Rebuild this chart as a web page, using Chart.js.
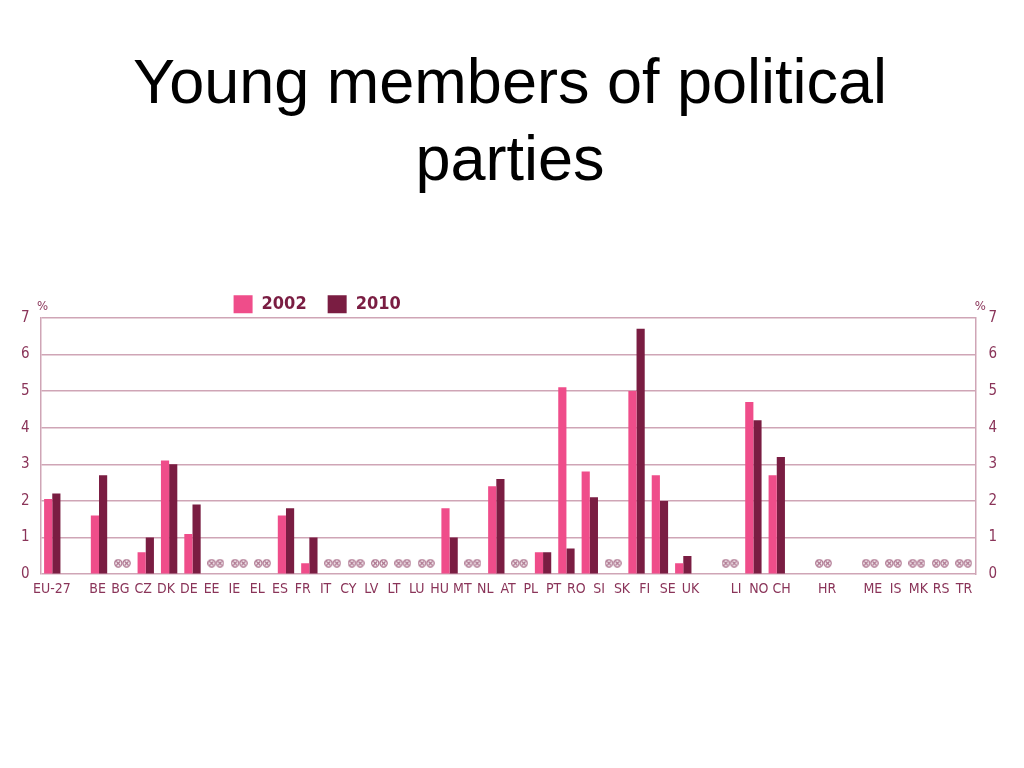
<!DOCTYPE html>
<html><head><meta charset="utf-8">
<script src="https://cdn.jsdelivr.net/npm/chart.js@4.4.1/dist/chart.umd.min.js"></script>
<style>html,body{margin:0;padding:0;background:#fff;}#wrap{width:1024px;height:768px;position:relative;}</style>
</head><body><div id="wrap"><canvas id="c" width="1024" height="768"></canvas></div>
<script>
// Categories as plotted (one slot per bar group / marker; '' = empty gap slot)
const categories = ['EU-27','','BE','BG','CZ','DK','DE','EE','IE','EL','ES','FR','IT','CY','LV','LT','LU',
  'HU','MT','NL','AT','PL','PT','SI','SK','FI','SE','UK','','LI','NO','CH','','HR','','ME','IS','MK','RS','TR'];
// Tick labels as printed under the axis in the reference (41 labels, spaced independently)
const tickLabels = ['EU-27','','BE','BG','CZ','DK','DE','EE','IE','EL','ES','FR','IT','CY','LV','LT','LU',
  'HU','MT','NL','AT','PL','PT','RO','SI','SK','FI','SE','UK','','LI','NO','CH','','HR','','ME','IS','MK','RS','TR'];
const values2002 = [2.05,null,1.6,null,0.6,3.1,1.1,null,null,null,1.6,0.3,null,null,null,null,null,
  1.8,null,2.4,null,0.6,5.1,2.8,null,5.0,2.7,0.3,null,null,4.7,2.7,null,null,null,null,null,null,null,null];
const values2010 = [2.2,null,2.7,null,1.0,3.0,1.9,null,null,null,1.8,1.0,null,null,null,null,null,
  1.0,null,2.6,null,0.6,0.7,2.1,null,6.7,2.0,0.5,null,null,4.2,3.2,null,null,null,null,null,null,null,null];
// Countries shown with the "no data" symbol
const noData = ['BG','EE','IE','EL','IT','CY','LV','LT','LU','MT','AT','SK','LI','HR','ME','IS','MK','RS','TR'];
const yTicks = [0,1,2,3,4,5,6,7];

const NARROW = "'DejaVu Sans Condensed','DejaVu Sans',sans-serif";
const PINK = '#ef4d8a', MAROON = '#7a1d42', GRID = '#cfa5b6', TXT = '#8a3459';
const MARK_Y = 0.3;
const LEG_PAD = 21;

function makeMark(){
  const c = document.createElement('canvas'); c.width = 17; c.height = 9;
  const g = c.getContext('2d'); g.strokeStyle = '#a86c88'; g.lineWidth = 1.2;
  [4.3, 12.6].forEach(cx => {
    g.beginPath(); g.arc(cx, 4.5, 3.6, 0, Math.PI*2); g.stroke();
    const d = 2.0; g.beginPath();
    g.moveTo(cx-d, 4.5-d); g.lineTo(cx+d, 4.5+d); g.moveTo(cx+d, 4.5-d); g.lineTo(cx-d, 4.5+d); g.stroke();
  });
  return c;
}
const markData = categories.map(c => noData.includes(c) ? MARK_Y : null);

const extras = {
  id: 'extras',
  afterLayout(chart){
    const lg = chart.legend, ca = chart.chartArea;
    const h = lg.bottom - lg.top;
    lg.left = ca.left + 193 - LEG_PAD;
    lg.top = ca.top - 13 - 9.5 - LEG_PAD;
    lg.bottom = lg.top + h;
  },
  afterDraw(chart){
    const ctx = chart.ctx, ca = chart.chartArea;
    ctx.save();
    ctx.fillStyle = TXT; ctx.font = 'condensed 13px ' + NARROW; ctx.textAlign = 'center'; ctx.textBaseline = 'middle';
    ctx.fillText('%', ca.left + 2, ca.top - 11);
    ctx.fillText('%', ca.right + 5, ca.top - 11);
    ctx.restore();
  }
};

new Chart(document.getElementById('c'), {
  data: {
    labels: categories,
    datasets: [
      {type:'bar', label:'2002', data: values2002, backgroundColor: PINK, borderWidth: 0, xAxisID:'x', yAxisID:'y',
        categoryPercentage: 0.7, barPercentage: 1.0},
      {type:'bar', label:'2010', data: values2010, backgroundColor: MAROON, borderWidth: 0, xAxisID:'x', yAxisID:'y',
        categoryPercentage: 0.7, barPercentage: 1.0},
      {type:'line', label:'n/a', data: markData, showLine: false, pointStyle: makeMark(), pointRadius: 6,
        xAxisID:'x', yAxisID:'y'}
    ]
  },
  options: {
    responsive: false, animation: false,
    layout: {padding: {left: 10, right: 14, top: 0, bottom: 163}},
    plugins: {
      tooltip: {enabled: false},
      title: {display: true, text: ['Young members of political','parties'], color: '#000',
        font: {family: "'Liberation Sans',Arial,Helvetica,sans-serif", size: 63, weight: 'normal', lineHeight: 1.22},
        padding: {top: 47, bottom: 68}},
      legend: {display: true, position: 'top', align: 'start',
        labels: {boxWidth: 19, boxHeight: 18, padding: LEG_PAD, color: MAROON,
          font: {family: NARROW, size: 18, weight: 'bold condensed'},
          filter: item => item.datasetIndex < 2}}
    },
    scales: {
      x: {type:'category', display: false, offset: true, grid: {display: false}},
      xl: {type:'category', labels: tickLabels, position: 'bottom', offset: true,
        grid: {display: false, drawTicks: false, tickLength: 0}, border: {display: false},
        ticks: {autoSkip: false, maxRotation: 0, minRotation: 0, padding: 7, color: TXT,
          font: {family: NARROW, size: 14, weight: 'condensed'}}},
      y: {min: 0, max: 7, position: 'left',
        afterBuildTicks: s => { s.ticks = yTicks.map(v => ({value: v})); },
        grid: {color: GRID, lineWidth: 1.5, drawTicks: false},
        border: {display: true, color: GRID, width: 1.5},
        ticks: {padding: 11, color: TXT, font: {family: NARROW, size: 15, weight: 'condensed'}}},
      y2: {min: 0, max: 7, position: 'right',
        afterBuildTicks: s => { s.ticks = yTicks.map(v => ({value: v})); },
        grid: {display: false, drawTicks: false},
        border: {display: true, color: GRID, width: 1.5},
        ticks: {padding: 13, color: TXT, font: {family: NARROW, size: 15, weight: 'condensed'}}}
    }
  },
  plugins: [extras]
});
</script></body></html>
